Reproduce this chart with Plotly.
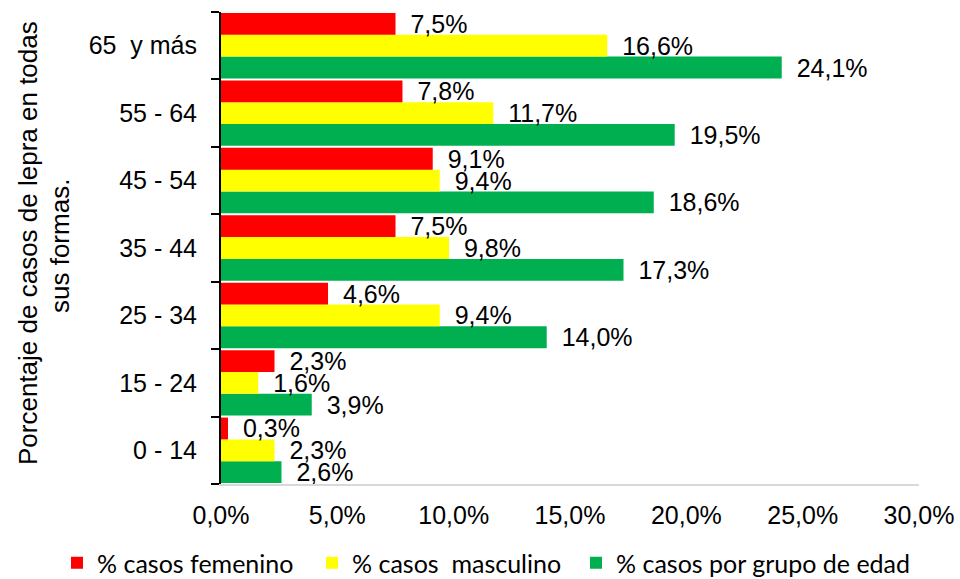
import plotly.graph_objects as go

categories = ["0 - 14", "15 - 24", "25 - 34", "35 - 44", "45 - 54", "55 - 64", "65\u00a0 y más"]
femenino = [0.3, 2.3, 4.6, 7.5, 9.1, 7.8, 7.5]
masculino = [2.3, 1.6, 9.4, 9.8, 9.4, 11.7, 16.6]
grupo_edad = [2.6, 3.9, 14.0, 17.3, 18.6, 19.5, 24.1]
x_ticks = [0, 5, 10, 15, 20, 25, 30]

# (name, values, colour, legend id, legend left edge in px)
series = [
    ("% casos por grupo de edad", grupo_edad, "#00B050", "legend3", 576),
    ("% casos \u00a0masculino", masculino, "#FFFF00", "legend2", 312),
    ("% casos femenino", femenino, "#FF0000", "legend", 57),
]

def fmt(v):
    return "\u00a0\u2009" + f"{v:.1f}".replace(".", ",") + "%"

fig = go.Figure()
for name, vals, color, leg, _ in series:
    fig.add_trace(go.Bar(
        y=categories, x=vals, name=name, orientation="h",
        marker=dict(color=color, line=dict(width=0)),
        text=[fmt(v) for v in vals], textposition="outside",
        constraintext="none", cliponaxis=False, legend=leg,
        textfont=dict(family="Liberation Sans, Arial", size=25, color="#000000"),
    ))

W, H = 960, 579
L, R, T, B = 221, 41, 12, 95
pw, ph = W - L - R, H - T - B

def px_x(px):
    return (px - L) / pw

def px_y(py):
    return (H - B - py) / ph

legends = {}
for name, vals, color, leg, left in series:
    legends[leg] = dict(
        orientation="h",
        xref="paper", x=px_x(left), xanchor="left",
        yref="paper", y=px_y(563), yanchor="middle",
        font=dict(family="Lato", size=25, color="#000000"),
        bgcolor="rgba(0,0,0,0)",
    )

fig.update_layout(
    template="none",
    width=W, height=H,
    margin=dict(l=L, r=R, t=T, b=B, pad=0, autoexpand=False),
    paper_bgcolor="white", plot_bgcolor="white",
    barmode="group", bargap=0.03, bargroupgap=0,
    separators=",.",
    font=dict(family="Liberation Sans, Arial", size=25, color="#000000"),
    showlegend=True,
    **legends,
    xaxis=dict(
        range=[0, 30], tickvals=x_ticks,
        ticktext=[f"{v:.1f}".replace(".", ",") + "%" for v in x_ticks],
        showgrid=False, zeroline=False, automargin=False,
        showline=True, linecolor="#D9D9D9", linewidth=2,
        ticks="", ticklabelstandoff=8, tickangle=0,
        tickfont=dict(family="Liberation Sans, Arial", size=25, color="#000000"),
        fixedrange=True,
    ),
    yaxis=dict(
        categoryorder="array", categoryarray=categories,
        showgrid=False, zeroline=False, automargin=False,
        showline=True, linecolor="#000000", linewidth=2,
        ticks="outside", tickson="boundaries", ticklen=8, tickwidth=2, tickcolor="#000000",
        ticklabelstandoff=17,
        tickfont=dict(family="Liberation Sans, Arial", size=25, color="#000000"),
        fixedrange=True,
    ),
    annotations=[
        dict(text="Porcentaje de casos de lepra en todas", textangle=-90,
             xref="paper", yref="paper", x=px_x(28), y=px_y(243),
             xanchor="center", yanchor="middle", showarrow=False,
             font=dict(family="Liberation Sans, Arial", size=26, color="#000000")),
        dict(text="sus formas.", textangle=-90,
             xref="paper", yref="paper", x=px_x(60), y=px_y(246),
             xanchor="center", yanchor="middle", showarrow=False,
             font=dict(family="Liberation Sans, Arial", size=26, color="#000000")),
    ],
)

fig.write_html("out.html", post_script="document.body.style.margin='0';",
               config={"displayModeBar": False})
